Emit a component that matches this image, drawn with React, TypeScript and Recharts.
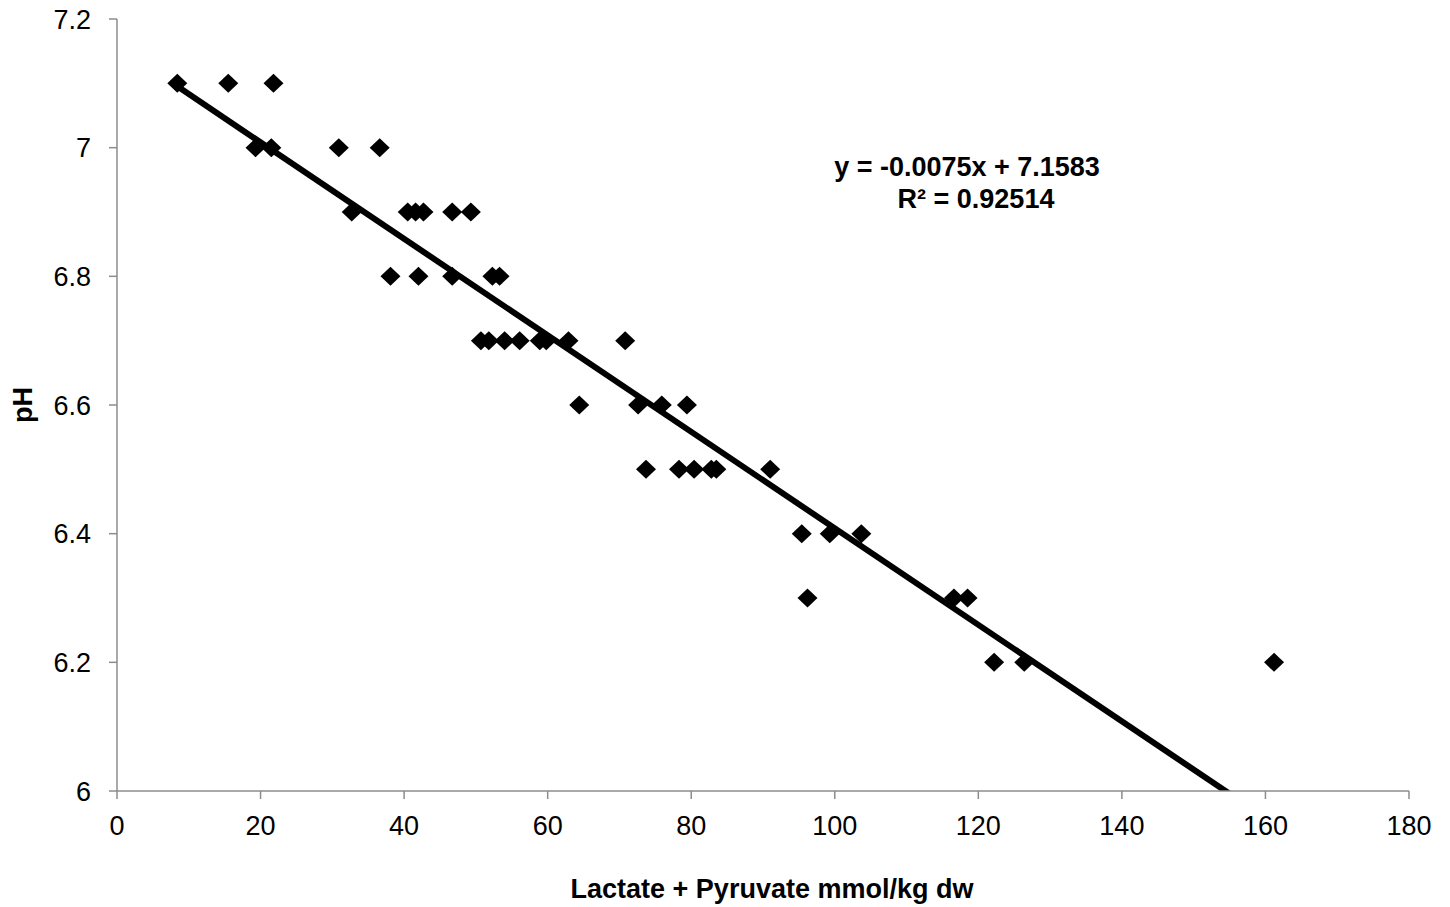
import React from 'react';
import { ScatterChart, Scatter, XAxis, YAxis, ReferenceLine, Label } from 'recharts';

// lactate + pyruvate (mmol/kg dw) and muscle pH
const lactate = [
  8.4, 15.5, 21.8,
  19.3, 21.5, 30.9, 36.6,
  32.7, 40.5, 41.6, 42.7, 46.7, 49.3,
  38.1, 42.0, 46.7, 52.3, 53.3,
  50.7, 51.8, 54.0, 56.1, 58.9, 59.8, 62.9, 70.8,
  64.4, 72.6, 75.9, 79.4,
  73.7, 78.3, 80.4, 82.8, 83.5, 91.0,
  95.4, 99.3, 103.7,
  96.2, 116.6, 118.5,
  122.2, 126.4, 161.2,
];
const ph = [
  7.1, 7.1, 7.1,
  7.0, 7.0, 7.0, 7.0,
  6.9, 6.9, 6.9, 6.9, 6.9, 6.9,
  6.8, 6.8, 6.8, 6.8, 6.8,
  6.7, 6.7, 6.7, 6.7, 6.7, 6.7, 6.7, 6.7,
  6.6, 6.6, 6.6, 6.6,
  6.5, 6.5, 6.5, 6.5, 6.5, 6.5,
  6.4, 6.4, 6.4,
  6.3, 6.3, 6.3,
  6.2, 6.2, 6.2,
];

const xTicks = [0, 20, 40, 60, 80, 100, 120, 140, 160, 180];
const yTicks = [6, 6.2, 6.4, 6.6, 6.8, 7, 7.2];

// linear fit shown on the chart
const slope = -0.0075;
const intercept = 7.1583;
const eqLine1 = 'y = -0.0075x + 7.1583';
const eqLine2 = 'R² = 0.92514';

const font = '"Liberation Sans", Arial, Helvetica, sans-serif';
const axisColor = '#8c8c8c';

const points = lactate.map((x, i) => ({ x, y: ph[i] }));
const xMin = Math.min(...lactate);
const xMax = Math.max(...lactate);

const Diamond = (props: any) => {
  const { cx, cy } = props;
  if (cx == null || cy == null) return null;
  const w = 10;
  const h = 9.5;
  return <path d={`M${cx},${cy - h} L${cx + w},${cy} L${cx},${cy + h} L${cx - w},${cy} Z`} fill="#000" />;
};

export default function App() {
  return (
    <div style={{ position: 'absolute', left: 0, top: 0, width: 1450, height: 907, background: '#fff' }}>
      <ScatterChart width={1450} height={907} margin={{ top: 19, right: 41, bottom: 56, left: 17 }}>
        <XAxis
          type="number"
          dataKey="x"
          domain={[0, 180]}
          ticks={xTicks}
          height={60}
          stroke={axisColor}
          strokeWidth={1.5}
          tickSize={8}
          tickMargin={17}
          tick={{ fontSize: 27, fill: '#000', fontFamily: font }}
        >
          <Label
            content={() => (
              <text x={772} y={898} textAnchor="middle" fontSize={27} fontWeight="bold" fontFamily={font} fill="#000">
                Lactate + Pyruvate mmol/kg dw
              </text>
            )}
          />
        </XAxis>
        <YAxis
          type="number"
          dataKey="y"
          domain={[6, 7.2]}
          ticks={yTicks}
          width={100}
          stroke={axisColor}
          strokeWidth={1.5}
          tickSize={8}
          tickMargin={18}
          tick={{ fontSize: 27, fill: '#000', fontFamily: font }}
        >
          <Label
            content={() => (
              <text
                x={23}
                y={405}
                transform="rotate(-90 23 405)"
                textAnchor="middle"
                dominantBaseline="central"
                fontSize={27}
                fontWeight="bold"
                fontFamily={font}
                fill="#000"
              >
                pH
              </text>
            )}
          />
        </YAxis>
        <ReferenceLine
          segment={[
            { x: xMin, y: slope * xMin + intercept },
            { x: xMax, y: slope * xMax + intercept },
          ]}
          stroke="#000"
          strokeWidth={6}
          ifOverflow="hidden"
        />
        <Scatter data={points} fill="#000" shape={Diamond} isAnimationActive={false} />
      </ScatterChart>
      <svg width={1450} height={907} style={{ position: 'absolute', left: 0, top: 0, pointerEvents: 'none' }}>
        <text x={967} y={176} textAnchor="middle" fontSize={27} fontWeight="bold" fontFamily={font} fill="#000">
          {eqLine1}
        </text>
        <text x={976} y={208} textAnchor="middle" fontSize={27} fontWeight="bold" fontFamily={font} fill="#000">
          {eqLine2}
        </text>
      </svg>
    </div>
  );
}
